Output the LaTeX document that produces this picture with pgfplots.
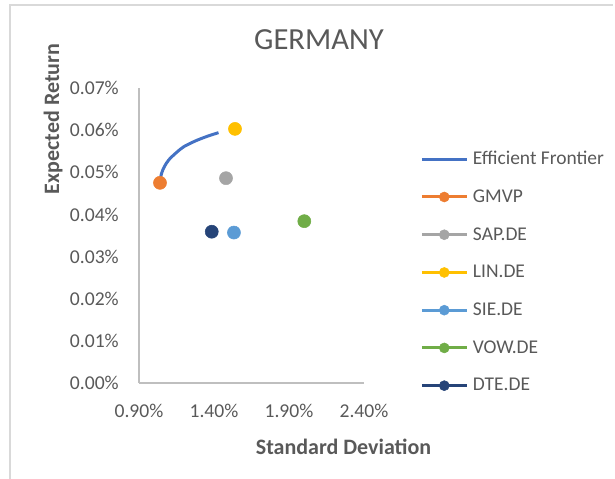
\documentclass[border=0pt]{standalone}
\usepackage{fontspec}
\setmainfont{Carlito}
\usepackage{pgfplots}
\pgfplotsset{compat=1.18}

\definecolor{txt}{HTML}{595959}
\definecolor{axgray}{HTML}{BFBFBF}
\definecolor{frame}{HTML}{D9D9D9}
\definecolor{cfront}{HTML}{4472C4}
\definecolor{cgmvp}{HTML}{ED7D31}
\definecolor{csap}{HTML}{A5A5A5}
\definecolor{clin}{HTML}{FFC000}
\definecolor{csie}{HTML}{5B9BD5}
\definecolor{cvow}{HTML}{70AD47}
\definecolor{cdte}{HTML}{264478}

% one scatter point with an Excel-like legend entry (line + dot)
\pgfplotsset{
  dot/.style={only marks, mark=*, mark size=4.9pt, color=#1,
    legend image code/.code={
      \draw[line width=2.25pt,#1] (0pt,0pt)--(33.75pt,0pt);
      \fill[#1] (16.875pt,0pt) circle (3.75pt);}},
}

\begin{document}
\begin{tikzpicture}
\begin{scope}[x=0.75pt,y=-0.75pt]
  \useasboundingbox (0,0) rectangle (615,479);
  \draw[frame, line width=1.5pt] (10,479)--(10,5)--(613,5);
  \node[txt, anchor=base, font=\fontsize{23}{27}\selectfont] at (319,49) {GERMANY};
  \node[txt, anchor=base, font=\bfseries\fontsize{16.5}{20}\selectfont] at (343.5,454) {Standard Deviation};
  \node[txt, anchor=base, rotate=90, font=\bfseries\fontsize{16.5}{20}\selectfont] at (59,119) {Expected Return};
\end{scope}

\begin{axis}[
  at={(104.25pt,-287.25pt)}, anchor=south west,
  scale only axis, width=168.75pt, height=221.25pt,
  xmin=0.9, xmax=2.4, ymin=0, ymax=0.07,
  xtick={0.9,1.4,1.9,2.4},
  ytick={0,0.01,0.02,0.03,0.04,0.05,0.06,0.07},
  xticklabels={0.90\%,1.40\%,1.90\%,2.40\%},
  yticklabels={0.00\%,0.01\%,0.02\%,0.03\%,0.04\%,0.05\%,0.06\%,0.07\%},
  scaled x ticks=false, scaled y ticks=false,
  axis x line*=bottom, axis y line*=left,
  axis line style={axgray, line width=1.1pt, -},
  major tick length=0pt,
  tick style={draw=none},
  ticklabel style={txt, font=\fontsize{14.7}{17}\selectfont},
  xticklabel style={anchor=north, inner sep=0pt, yshift=-16pt},
  yticklabel style={anchor=east, inner sep=0pt, xshift=-15pt},
  /pgf/number format/assume math mode=true,
  clip=false,
  legend style={at={(axis description cs:1.249,0.791)}, anchor=north west,
    draw=none, fill=none, inner sep=0pt, row sep=14.3pt, column sep=3.5pt,
    font=\fontsize{14.6}{17}\selectfont, text=txt,
    nodes={inner sep=0pt, text height=11pt, text depth=3pt}},
  legend cell align=left,
]
\addplot[cfront, line width=2.25pt, smooth, no marks,
  legend image code/.code={\draw[line width=2.25pt,cfront] (0pt,0pt)--(33.75pt,0pt);}]
  coordinates {(1.040,0.0478)(1.050,0.0497)(1.070,0.0514)(1.100,0.0530)
               (1.150,0.0547)(1.200,0.0561)(1.280,0.0575)(1.360,0.0586)(1.430,0.0594)};
\addlegendentry{Efficient Frontier}
\addplot[dot=cgmvp] coordinates {(1.040,0.0475)};
\addlegendentry{GMVP}
\addplot[dot=csap] coordinates {(1.480,0.0486)};
\addlegendentry{SAP.DE}
\addplot[dot=clin] coordinates {(1.540,0.0603)};
\addlegendentry{LIN.DE}
\addplot[dot=csie] coordinates {(1.533,0.0357)};
\addlegendentry{SIE.DE}
\addplot[dot=cvow] coordinates {(2.002,0.0384)};
\addlegendentry{VOW.DE}
\addplot[dot=cdte] coordinates {(1.385,0.0359)};
\addlegendentry{DTE.DE}
\end{axis}
\end{tikzpicture}
\end{document}
